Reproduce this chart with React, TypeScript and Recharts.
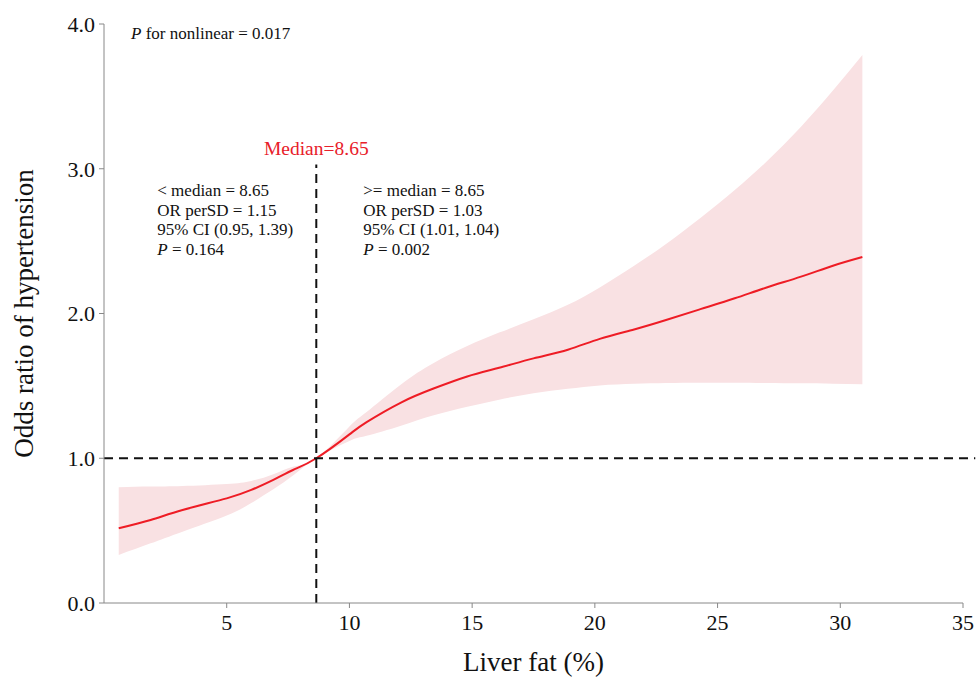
import React from "react"
import { Area, ComposedChart, Label, Line, ReferenceLine, XAxis, YAxis } from "recharts"

// liver fat (%) at each sampled point of the spline
const fat = [0.6, 1.9, 3.2, 5.0, 6.0, 6.9, 7.7, 8.65, 10.0, 10.7, 12.1, 13.4, 14.8, 16.1, 17.5, 18.9, 20.2, 21.6, 22.9, 24.3, 25.7, 27.0, 28.4, 29.7, 30.9]
const oddsRatio = [0.516, 0.573, 0.642, 0.723, 0.781, 0.85, 0.919, 1.0, 1.165, 1.25, 1.385, 1.48, 1.565, 1.625, 1.69, 1.75, 1.825, 1.89, 1.955, 2.03, 2.105, 2.18, 2.255, 2.33, 2.39]
const ciLower = [0.332, 0.412, 0.493, 0.605, 0.69, 0.785, 0.88, 1.0, 1.12, 1.155, 1.225, 1.295, 1.356, 1.405, 1.449, 1.48, 1.503, 1.514, 1.52, 1.522, 1.522, 1.52, 1.518, 1.515, 1.511]
const ciUpper = [0.8, 0.804, 0.808, 0.822, 0.843, 0.889, 0.942, 1.0, 1.22, 1.32, 1.51, 1.655, 1.775, 1.868, 1.96, 2.06, 2.18, 2.33, 2.48, 2.66, 2.853, 3.05, 3.29, 3.54, 3.786]

const xTicks = [5, 10, 15, 20, 25, 30, 35]
const yTicks = [0, 1, 2, 3, 4]
const MEDIAN = 8.65

const leftNotes = ["< median = 8.65", "OR perSD = 1.15", "95% CI (0.95, 1.39)", "= 0.164"]
const rightNotes = [">= median = 8.65", "OR perSD = 1.03", "95% CI (1.01, 1.04)", "= 0.002"]

const data = fat.map((x, i) => ({
  x,
  or: oddsRatio[i],
  ci: [ciLower[i], ciUpper[i]],
}))

const SERIF = "'Liberation Serif', 'Times New Roman', serif"

function NoteBlock({ x, lines }: { x: number; lines: string[] }) {
  return (
    <text x={x} y={196} fontFamily={SERIF} fontSize={17} fill="#111">
      {lines.map((t, i) => (
        <tspan key={i} x={x} y={196 + i * 19.7}>
          {i === 3 ? <tspan fontStyle="italic">P</tspan> : null}
          {i === 3 ? " " + t : t}
        </tspan>
      ))}
    </text>
  )
}

function Notes(props: any) {
  const vx = props.viewBox?.x ?? 316
  return (
    <g>
      <text x={131} y={39} fontFamily={SERIF} fontSize={17} fill="#111">
        <tspan fontStyle="italic">P</tspan> for nonlinear = 0.017
      </text>
      <text x={vx} y={155} textAnchor="middle" fontFamily={SERIF} fontSize={19.5} fill="#e8202a">
        Median=8.65
      </text>
      <NoteBlock x={vx - 159} lines={leftNotes} />
      <NoteBlock x={vx + 47} lines={rightNotes} />
    </g>
  )
}

export default function App() {
  return (
    <div style={{ position: "absolute", left: 0, top: 0, background: "#fff" }}>
      <ComposedChart width={976} height={677} data={data} margin={{ top: 24, right: 13, left: 0, bottom: 0 }}>
        <XAxis
          type="number"
          dataKey="x"
          domain={[0, 35]}
          ticks={xTicks}
          height={74}
          stroke="#888"
          tickSize={5}
          tickMargin={6}
          tick={{ fill: "#111", fontSize: 22, fontFamily: SERIF }}
        >
          <Label value="Liver fat (%)" position="insideBottom" offset={6} fill="#111" fontSize={27} fontFamily={SERIF} />
        </XAxis>
        <YAxis
          type="number"
          domain={[0, 4]}
          ticks={yTicks}
          width={104}
          stroke="#888"
          tickSize={5}
          tickMargin={4}
          tickFormatter={(v: number) => v.toFixed(1)}
          tick={{ fill: "#111", fontSize: 22, fontFamily: SERIF }}
        >
          <Label
            value="Odds ratio of hypertension"
            angle={-90}
            position="insideLeft"
            offset={23}
            style={{ textAnchor: "middle" }}
            fill="#111"
            fontSize={27}
            fontFamily={SERIF}
          />
        </YAxis>
        <Area
          type="natural"
          dataKey="ci"
          stroke="none"
          fill="#f9e1e3"
          fillOpacity={1}
          isAnimationActive={false}
        />
        <Line type="natural" dataKey="or" stroke="#ee1c25" strokeWidth={2} dot={false} isAnimationActive={false} />
        <ReferenceLine
          segment={[{ x: 0, y: 1 }, { x: 35.5, y: 1 }]}
          ifOverflow="visible"
          stroke="#111"
          strokeWidth={2}
          strokeDasharray="9 6"
        />
        <ReferenceLine
          segment={[{ x: MEDIAN, y: 0 }, { x: MEDIAN, y: 3.03 }]}
          stroke="#111"
          strokeWidth={2}
          strokeDasharray="9 6"
        >
          <Label content={Notes} />
        </ReferenceLine>
      </ComposedChart>
    </div>
  )
}
